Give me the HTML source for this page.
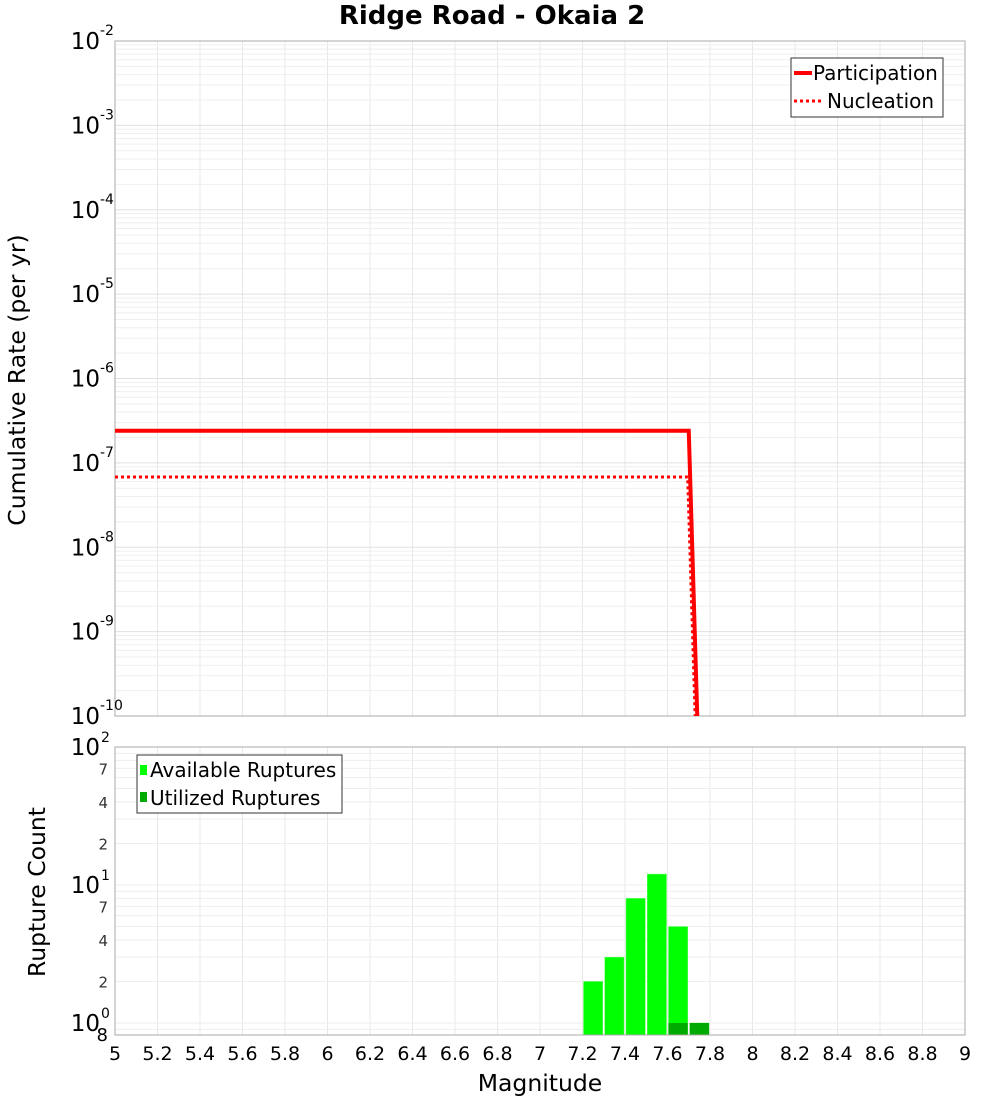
<!DOCTYPE html>
<html><head><meta charset="utf-8"><style>
body{margin:0;background:#fff;font-family:"Liberation Sans","DejaVu Sans",sans-serif}
text{font-family:"DejaVu Sans","Liberation Sans",sans-serif}
</style></head><body>
<svg id="c" width="1000" height="1100" xmlns="http://www.w3.org/2000/svg"></svg>
<script>
const xTicks=[5,5.2,5.4,5.6,5.8,6,6.2,6.4,6.6,6.8,7,7.2,7.4,7.6,7.8,8,8.2,8.4,8.6,8.8,9];
const partMag=[5.0,7.7,7.74];
const partRate=[2.4e-7,2.4e-7,1e-10];
const nuclMag=[5.0,7.695,7.73];
const nuclRate=[6.8e-8,6.8e-8,1e-10];
const binMag=[7.25,7.35,7.45,7.55,7.65,7.75];
const availCount=[2,3,8,12,5,1];
const utilCount=[0,0,0,0,1,1];
const topDecades=[-10,-9,-8,-7,-6,-5,-4,-3,-2];
const botDecades=[0,1,2];
const botMinor=[2,4,7];

const svg=document.getElementById('c');
const NS='http://www.w3.org/2000/svg';
function mk(t,a,p){const e=document.createElementNS(NS,t);for(const k in a)e.setAttribute(k,a[k]);(p||svg).appendChild(e);return e;}
const L=115,R=965;
const X=m=>L+(m-5)/4*(R-L);
const T0=41,T1=716;
const Yt=v=>T1-(Math.log10(v)+10)/8*(T1-T0);
const B0=747,B1=1035,BD=138;
const Yb=v=>1023-Math.log10(v)*BD;

let t=mk('text',{x:492,y:24,'text-anchor':'middle','font-size':26,'font-weight':'bold'});t.textContent='Ridge Road - Okaia 2';


let g=mk('g',{});
xTicks.forEach(m=>mk('line',{x1:X(m),x2:X(m),y1:T0,y2:T1,stroke:'#e8e8e8'},g));
topDecades.forEach(d=>{for(let k=1;k<10;k++){const v=k*Math.pow(10,d);const y=Yt(v);if(y<T0-0.5)continue;mk('line',{x1:L,x2:R,y1:y,y2:y,stroke:k==1?'#e0e0e0':'#efefef'},g);}});
mk('rect',{x:L,y:T0,width:R-L,height:T1-T0,fill:'none',stroke:'#aaa'});
topDecades.forEach(d=>{const y=Yt(Math.pow(10,d));
 let tx=mk('text',{x:100,y:y+8,'text-anchor':'end','font-size':23});tx.textContent='10';
 
 let s=mk('text',{x:100,y:y-6,'font-size':14});s.textContent=String(d);});
t=mk('text',{x:25,y:380,'text-anchor':'middle','font-size':23.5,transform:'rotate(-90 25 380)'});t.textContent='Cumulative Rate (per yr)';


const cp=mk('clipPath',{id:'cp'});mk('rect',{x:L,y:T0,width:R-L,height:T1-T0+1},cp);
function line(ms,vs,name,dash){const p=mk('polyline',{points:ms.map((m,i)=>X(m)+','+Yt(vs[i])).join(' '),fill:'none',stroke:'#ff0000','stroke-width':dash?3:4,'clip-path':'url(#cp)'});
 if(dash)p.setAttribute('stroke-dasharray','3,3');}
line(nuclMag,nuclRate,'nucleation-line',true);
line(partMag,partRate,'participation-line',false);

g=mk('g',{});
mk('rect',{x:791,y:58,width:152,height:59,fill:'#fff',stroke:'#333'},g);
mk('line',{x1:794,x2:812,y1:73,y2:73,stroke:'#f00','stroke-width':4},g);
mk('line',{x1:794,x2:822,y1:101,y2:101,stroke:'#f00','stroke-width':3,'stroke-dasharray':'3,3'},g);
t=mk('text',{x:813,y:80,'font-size':20},g);t.textContent='Participation';
t=mk('text',{x:827,y:108,'font-size':20},g);t.textContent='Nucleation';

g=mk('g',{});
xTicks.forEach(m=>mk('line',{x1:X(m),x2:X(m),y1:B0,y2:B1,stroke:'#e8e8e8'},g));
for(let d=-1;d<2;d++)for(let k=1;k<10;k++){const y=Yb(k*Math.pow(10,d));if(y>B1||y<B0)continue;mk('line',{x1:L,x2:R,y1:y,y2:y,stroke:'#eee'},g);}
binMag.forEach((m,i)=>{const w=(R-L)/40;
 let r=mk('rect',{x:X(m)-w/2+1,y:Yb(availCount[i]),width:w-2,height:B1-Yb(availCount[i]),fill:'#00ff00',stroke:'#66ff66','stroke-width':0.5});
 
 if(utilCount[i]>0){let u=mk('rect',{x:X(m)-w/2+1,y:Yb(utilCount[i]),width:w-2,height:B1-Yb(utilCount[i]),fill:'#00aa00'});
 }});
mk('rect',{x:L,y:B0,width:R-L,height:B1-B0,fill:'none',stroke:'#aaa'});
botDecades.forEach(d=>{const y=Yb(Math.pow(10,d));
 let tx=mk('text',{x:100,y:y+8,'text-anchor':'end','font-size':23});tx.textContent='10';
 
 let s=mk('text',{x:101,y:y-5,'font-size':14});s.textContent=String(d);
 if(d<2)botMinor.forEach(k=>{let m=mk('text',{x:108,y:Yb(k*Math.pow(10,d))+6,'text-anchor':'end','font-size':15,fill:'#333'});m.textContent=k;});});
t=mk('text',{x:108,y:1041,'text-anchor':'end','font-size':18});t.textContent='8';
t=mk('text',{x:45,y:892,'text-anchor':'middle','font-size':23.5,transform:'rotate(-90 45 892)'});t.textContent='Rupture Count';

xTicks.forEach(m=>{let tx=mk('text',{x:X(m),y:1060,'text-anchor':'middle','font-size':19});tx.textContent=String(m);
 });
t=mk('text',{x:540,y:1091,'text-anchor':'middle','font-size':23.5});t.textContent='Magnitude';

g=mk('g',{});
mk('rect',{x:137,y:755,width:205,height:58,fill:'#fff',stroke:'#333'},g);
mk('rect',{x:140,y:765,width:7,height:10,fill:'#00ff00'},g);
mk('rect',{x:140,y:792,width:7,height:10,fill:'#00aa00'},g);
t=mk('text',{x:150,y:777,'font-size':20},g);t.textContent='Available Ruptures';
t=mk('text',{x:150,y:805,'font-size':20},g);t.textContent='Utilized Ruptures';
</script>
</body></html>
